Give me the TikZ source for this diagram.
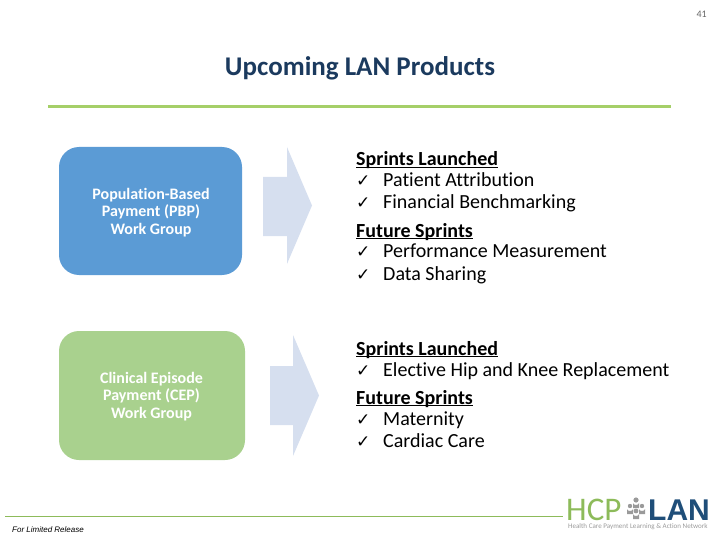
\documentclass[tikz,border=0pt]{standalone}
\usepackage{fontspec}
\setmainfont[RawFeature={-liga;-clig}]{Carlito}
\newfontfamily\chk{DejaVu Sans}
\newfontfamily\heros{Liberation Sans}
\definecolor{cblue}{HTML}{5B9BD5}
\definecolor{cgreen}{HTML}{A9D18E}
\definecolor{carrow}{HTML}{D6DFEF}
\definecolor{crule}{HTML}{A5CF68}
\definecolor{cnavy}{HTML}{1F4E79}
\definecolor{ctitle}{HTML}{1B3A5E}
\definecolor{chcp}{HTML}{8DBB5A}
\definecolor{cgrey}{HTML}{9A9A9A}
\newsavebox{\ulbox}
\newcommand{\ulx}[1]{\sbox{\ulbox}{#1}\rlap{\rule[-2.4pt]{\wd\ulbox}{1.2pt}}\usebox{\ulbox}}
\tikzset{
  x=1pt,y=-1pt,
  groupbox/.style={fill=#1,rounded corners=20pt},
  grouplabel/.style={text=white,font=\fontsize{16}{17.3}\selectfont\bfseries,align=center,inner sep=0pt},
  arrowshape/.style={fill=carrow,draw=none},
  head/.style={anchor=base west,inner sep=0pt,font=\fontsize{20}{22}\selectfont\bfseries},
  item/.style={anchor=base west,inner sep=0pt,font=\fontsize{20}{22}\selectfont},
  tick/.style={anchor=base west,inner sep=0pt,font=\chk\bfseries\fontsize{17}{18}\selectfont},
  person/.style={fill=cgrey,draw=none}
}
\newcommand{\hd}[2]{\node[head] at (356,#1) {\ulx{#2}};}
\newcommand{\itm}[2]{\node[tick] at (356,#1) {✓}; \node[item] at (383,#1) {#2};}
\begin{document}
\begin{tikzpicture}
\useasboundingbox (0,0) rectangle (720,540);
\node[anchor=base east,inner sep=0pt,text=black!60,font=\fontsize{10}{12}\selectfont] (pg) at (707,18) {41};
\node[anchor=base,inner sep=0pt,text=ctitle,font=\fontsize{27}{30}\selectfont\bfseries] (title) at (360,76) {Upcoming LAN Products};
\fill[crule] (48,105) rectangle (671,108);

\fill[groupbox=cblue] (59,147) rectangle (242,275);
\fill[groupbox=cgreen] (59,331) rectangle (245,460);
\node[grouplabel] (pbp) at (151,212.5) {Population-Based\\Payment (PBP)\\Work Group};
\node[grouplabel] (cep) at (151.5,396.5) {Clinical Episode\\Payment (CEP)\\Work Group};

\fill[arrowshape] (263,177) -- (287,177) -- (287,147) -- (312,205.5) -- (287,264) -- (287,236) -- (263,236) -- cycle;
\fill[arrowshape] (270,366) -- (293,366) -- (293,335) -- (319,395.5) -- (293,456) -- (293,425) -- (270,425) -- cycle;

\hd{166}{Sprints Launched}
\itm{187}{Patient Attribution}
\itm{209}{Financial Benchmarking}
\hd{237}{Future Sprints}
\itm{258}{Performance Measurement}
\itm{280}{Data Sharing}

\hd{355}{Sprints Launched}
\itm{376}{Elective Hip and Knee Replacement}
\hd{404}{Future Sprints}
\itm{425}{Maternity}
\itm{447}{Cardiac Care}

\draw[chcp,line width=0.8pt] (5,516.5) -- (563,516.5);
\node[anchor=base west,inner sep=0pt,font=\heros\fontsize{8}{10}\selectfont\itshape] (rel) at (12,532) {For Limited Release};

\node[anchor=base west,inner sep=0pt,text=chcp,font=\fontsize{33}{36}\selectfont] (hcp) at (566,520) {HCP};
\node[anchor=base west,inner sep=0pt,text=cnavy,font=\heros\fontsize{30}{36}\selectfont\bfseries] (lan) at (648,520) {LAN};
\node[anchor=base west,inner sep=0pt,text=cgrey,font=\fontsize{7.05}{9}\selectfont] (net) at (568,528.5) {Health Care Payment Learning \& Action Network};
\foreach \px/\py/\r in {636/500/2.6,630/506/2.2,642/506/2.2,636/511/2.4}{
  \fill[person] (\px,\py) circle (\r);
  \fill[person] (\px-3,\py+8) -- (\px-3,\py+3) arc[start angle=180,end angle=360,radius=3,y radius=-2] -- (\px+3,\py+8) -- cycle;
}
\end{tikzpicture}
\end{document}
